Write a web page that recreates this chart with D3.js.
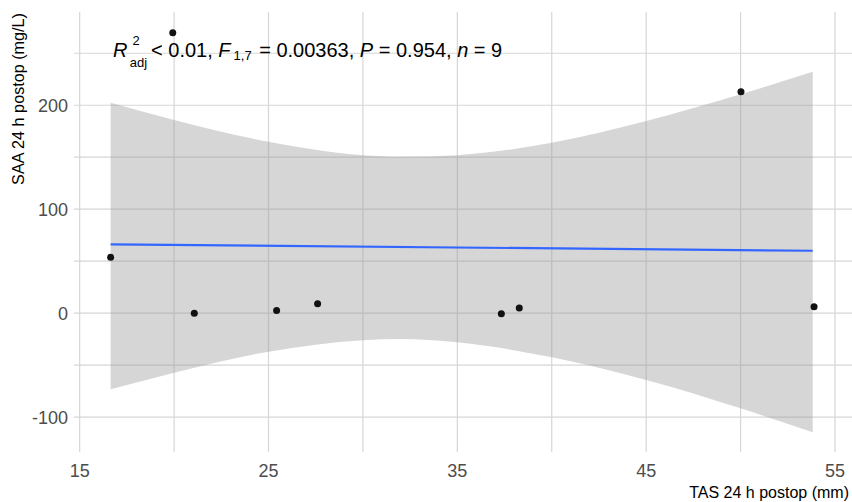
<!DOCTYPE html>
<html>
<head>
<meta charset="utf-8">
<script src="https://cdn.jsdelivr.net/npm/d3@7"></script>
<style>
  body { margin: 0; background: #fff; }
  svg { display: block; font-family: "Liberation Sans", Arial, sans-serif; }
</style>
</head>
<body>
<script>
// points
const tas = [16.64, 19.93, 21.07, 25.43, 27.6, 37.33, 38.28, 50.02, 53.89];
const saa = [53.7, 269.8, 0, 2.6, 9.1, -0.5, 4.9, 213, 6.2];

// fitted line and its confidence band
const fitX = [16.64, 53.82];
const fitY = [66.2, 60.0];
const bandX = [16.64, 20, 25, 30, 32, 35, 40, 45, 50, 53.82];
const bandHi = [202.4, 185.8, 164.9, 152.0, 150.5, 152.0, 164.0, 184.8, 210.5, 232.2];
const bandLo = [-73.3, -57.3, -37.1, -26.0, -24.8, -28.0, -42.5, -64.3, -91.6, -114.7];

const xTicks = [15, 25, 35, 45, 55];
const xMinor = [20, 30, 40, 50];
const yTicks = [-100, 0, 100, 200];
const yMinor = [-50, 50, 150, 250];

const width = 852, height = 502;
const margin = { top: 12, right: 0, bottom: 50, left: 74 };

const x = d3.scaleLinear().domain([14.7, 55.9]).range([margin.left, width - margin.right]);
const y = d3.scaleLinear().domain([-133.6, 289.7]).range([height - margin.bottom, margin.top]);

const svg = d3.select("body").append("svg")
    .attr("width", width)
    .attr("height", height);

// grid
const grid = svg.append("g").attr("stroke", "#d6d6d6").attr("stroke-width", 1.2);
grid.selectAll(".vx").data(xTicks.concat(xMinor)).join("line")
    .attr("x1", d => x(d)).attr("x2", d => x(d))
    .attr("y1", y.range()[0]).attr("y2", y.range()[1]);
grid.selectAll(".hy").data(yTicks.concat(yMinor)).join("line")
    .attr("x1", x.range()[0]).attr("x2", x.range()[1])
    .attr("y1", d => y(d)).attr("y2", d => y(d));

// confidence band
const band = bandX.map((v, i) => ({ x: v, lo: bandLo[i], hi: bandHi[i] }));
svg.append("path")
    .datum(band)
    .attr("fill", "#999999")
    .attr("fill-opacity", 0.4)
    .attr("d", d3.area()
        .x(d => x(d.x))
        .y0(d => y(d.lo))
        .y1(d => y(d.hi))
        .curve(d3.curveMonotoneX));

// fitted line
svg.append("path")
    .datum(fitX.map((v, i) => [v, fitY[i]]))
    .attr("fill", "none")
    .attr("stroke", "#3366FF")
    .attr("stroke-width", 2.2)
    .attr("d", d3.line().x(d => x(d[0])).y(d => y(d[1])));

// points
svg.append("g").selectAll("circle")
    .data(tas.map((v, i) => [v, saa[i]]))
    .join("circle")
    .attr("cx", d => x(d[0]))
    .attr("cy", d => y(d[1]))
    .attr("r", 3.5)
    .attr("fill", "#111");

// tick labels
svg.append("g").selectAll("text").data(xTicks).join("text")
    .attr("x", d => x(d)).attr("y", 477)
    .attr("text-anchor", "middle")
    .attr("font-size", 18)
    .attr("fill", "#4d4d4d")
    .text(d => d);
svg.append("g").selectAll("text").data(yTicks).join("text")
    .attr("x", 68).attr("y", d => y(d) + 6.5)
    .attr("text-anchor", "end")
    .attr("font-size", 18)
    .attr("fill", "#4d4d4d")
    .text(d => d);

// axis titles
svg.append("text")
    .attr("x", 849).attr("y", 497.5)
    .attr("text-anchor", "end")
    .attr("font-size", 16)
    .attr("fill", "#000")
    .text("TAS 24 h postop (mm)");
svg.append("text")
    .attr("transform", "translate(24,13) rotate(-90)")
    .attr("text-anchor", "end")
    .attr("font-size", 16.2)
    .attr("fill", "#000")
    .text("SAA 24 h postop (mg/L)");

// annotation
const note = svg.append("text")
    .attr("x", 113).attr("y", 57)
    .attr("font-size", 20)
    .attr("fill", "#000");
note.append("tspan").attr("font-style", "italic").text("R");
note.append("tspan").attr("font-size", 13).attr("dx", 5).attr("dy", -12).text("2");
note.append("tspan").attr("font-size", 13).attr("dx", -10).attr("dy", 22).text("adj");
note.append("tspan").attr("dy", -10).attr("dx", 4).text("< 0.01, ");
note.append("tspan").attr("font-style", "italic").text("F");
note.append("tspan").attr("font-size", 13).attr("dx", 3).attr("dy", 3).text("1,7");
note.append("tspan").attr("dy", -3).attr("dx", 2).text(" = 0.00363, ");
note.append("tspan").attr("font-style", "italic").text("P");
note.append("tspan").text(" = 0.954, ");
note.append("tspan").attr("font-style", "italic").text("n");
note.append("tspan").text(" = 9");
</script>
</body>
</html>
